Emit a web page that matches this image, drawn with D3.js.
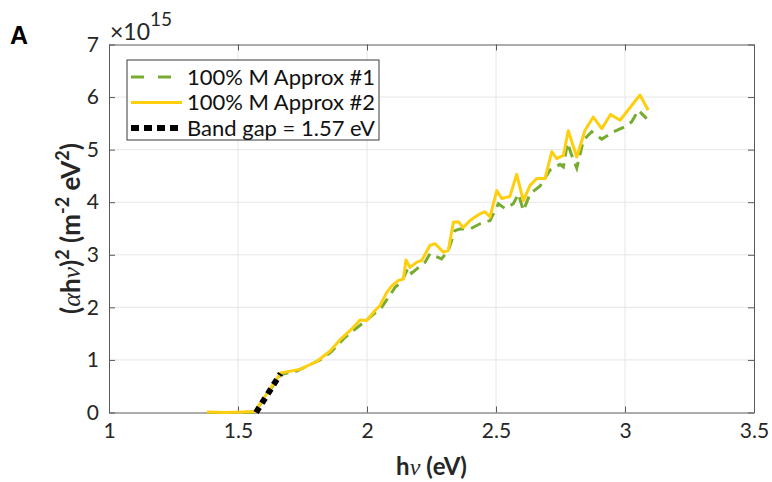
<!DOCTYPE html>
<html>
<head>
<meta charset="utf-8">
<script src="https://cdn.jsdelivr.net/npm/d3@7"></script>
<style>
  body { margin: 0; background: #fff; }
  svg text { font-family: Lato, "Open Sans", sans-serif; }
</style>
</head>
<body>
<script>
// data, y in units of 1e15
var approx1X = [1.38, 1.45, 1.52, 1.565, 1.615, 1.665, 1.728, 1.818, 1.86, 1.915, 1.986, 2.057, 2.109, 2.134, 2.16, 2.173,
  2.225, 2.244, 2.289, 2.315, 2.341, 2.36, 2.399, 2.438, 2.477, 2.509, 2.535, 2.567, 2.587, 2.606, 2.632, 2.671,
  2.709, 2.748, 2.761, 2.777, 2.793, 2.813, 2.839, 2.871, 2.91, 2.955, 3.005, 3.026, 3.052, 3.084];
var approx1Y = [0.0, 0.0, 0.0, 0.01, 0.36, 0.72, 0.79, 1.0, 1.15, 1.43, 1.71, 2.0, 2.38, 2.48, 2.76, 2.65,
  2.86, 3.02, 2.92, 3.08, 3.46, 3.49, 3.49, 3.59, 3.65, 3.97, 3.88, 3.97, 4.16, 3.84, 4.16, 4.31,
  4.61, 4.72, 4.67, 5.13, 4.9, 4.65, 5.18, 5.34, 5.2, 5.34, 5.45, 5.53, 5.75, 5.59];

var approx2X = [1.38, 1.45, 1.52, 1.565, 1.615, 1.665, 1.74, 1.805, 1.857, 1.895, 1.941, 1.973, 1.999, 2.031, 2.05, 2.076,
  2.096, 2.121, 2.141, 2.151, 2.167, 2.193, 2.212, 2.244, 2.264, 2.296, 2.315, 2.335, 2.354, 2.373, 2.399, 2.438,
  2.457, 2.477, 2.503, 2.522, 2.554, 2.58, 2.606, 2.632, 2.658, 2.69, 2.716, 2.735, 2.761, 2.78, 2.813, 2.845,
  2.877, 2.91, 2.944, 2.981, 3.058, 3.09];
var approx2Y = [0.01, 0.0, 0.01, 0.02, 0.38, 0.75, 0.82, 0.97, 1.17, 1.38, 1.59, 1.76, 1.75, 1.94, 2.03, 2.28,
  2.41, 2.51, 2.54, 2.9, 2.76, 2.86, 2.89, 3.18, 3.21, 3.05, 3.08, 3.62, 3.63, 3.52, 3.65, 3.78,
  3.82, 3.72, 4.22, 4.07, 4.11, 4.53, 4.03, 4.32, 4.45, 4.45, 4.96, 4.83, 4.89, 5.36, 4.86, 5.37,
  5.62, 5.4, 5.67, 5.56, 6.04, 5.75];

var bandGapX = [1.57, 1.665];
var bandGapY = [0.0, 0.74];

var legendLabels = ["100% M Approx #1", "100% M Approx #2", "Band gap = 1.57 eV"];
var xTicks = [1, 1.5, 2, 2.5, 3, 3.5];
var yTicks = [0, 1, 2, 3, 4, 5, 6, 7];

var width = 772, height = 482;
var pLeft = 109, pRight = 754, pTop = 44.5, pBottom = 412.5;

var svg = d3.select("body").append("svg")
    .attr("width", width)
    .attr("height", height);

var x = d3.scaleLinear().domain([1, 3.5]).range([pLeft, pRight]);
var y = d3.scaleLinear().domain([0, 7]).range([pBottom, pTop]);

// grid
svg.append("g").selectAll("line")
    .data(xTicks.slice(1, -1))
    .join("line")
    .attr("x1", d => x(d)).attr("x2", d => x(d))
    .attr("y1", pTop).attr("y2", pBottom)
    .attr("stroke", "#e6e6e6").attr("stroke-width", 1);
svg.append("g").selectAll("line")
    .data(yTicks.slice(1, -1))
    .join("line")
    .attr("x1", pLeft).attr("x2", pRight)
    .attr("y1", d => y(d)).attr("y2", d => y(d))
    .attr("stroke", "#e6e6e6").attr("stroke-width", 1);

// axes, ticks pointing inward like matlab
function styleAxis(g) {
  g.select(".domain").attr("stroke", "#5a5a5a");
  g.selectAll(".tick line").attr("stroke", "#5a5a5a");
  g.selectAll(".tick text").attr("fill", "#262626").style("font-size", "21px");
}
svg.append("g").attr("transform", "translate(0," + pBottom + ")")
    .call(d3.axisBottom(x).tickValues(xTicks).tickFormat(d3.format("")).tickSizeInner(-6).tickSizeOuter(0).tickPadding(11))
    .call(styleAxis);
svg.append("g").attr("transform", "translate(0," + pTop + ")")
    .call(d3.axisTop(x).tickValues(xTicks).tickFormat("").tickSizeInner(-6).tickSizeOuter(0))
    .call(styleAxis);
svg.append("g").attr("transform", "translate(" + pLeft + ",0)")
    .call(d3.axisLeft(y).tickValues(yTicks).tickFormat(d3.format("d")).tickSizeInner(-6).tickSizeOuter(0).tickPadding(10))
    .call(styleAxis);
svg.append("g").attr("transform", "translate(" + pRight + ",0)")
    .call(d3.axisRight(y).tickValues(yTicks).tickFormat("").tickSizeInner(-6).tickSizeOuter(0))
    .call(styleAxis);

// lines
var line = d3.line().x(d => x(d[0])).y(d => y(d[1]));
var green = "#77ac30", yellow = "#ffcf0f";

svg.append("path")
    .datum(d3.zip(approx1X, approx1Y))
    .attr("d", line)
    .attr("fill", "none").attr("stroke", green)
    .attr("stroke-width", 3).attr("stroke-dasharray", "11,7");
svg.append("path")
    .datum(d3.zip(approx2X, approx2Y))
    .attr("d", line)
    .attr("fill", "none").attr("stroke", yellow)
    .attr("stroke-width", 3).attr("stroke-linejoin", "round");
svg.append("path")
    .datum(d3.zip(bandGapX, bandGapY))
    .attr("d", line)
    .attr("fill", "none").attr("stroke", "#000")
    .attr("stroke-width", 6).attr("stroke-dasharray", "6,5");

// legend
var lg = svg.append("g");
lg.append("rect")
    .attr("x", 127).attr("y", 60).attr("width", 252).attr("height", 80)
    .attr("fill", "#fff").attr("stroke", "#3a3a3a").attr("stroke-width", 1);
var legendStyles = [
  { color: green, w: 3, dash: "13,14" },
  { color: yellow, w: 3, dash: null },
  { color: "#000", w: 6, dash: "8,5" }
];
var rows = lg.selectAll("g.row")
    .data(legendLabels)
    .join("g")
    .attr("transform", (d, i) => "translate(0," + (77 + i * 25.5) + ")");
rows.append("line")
    .attr("x1", 131).attr("x2", 182)
    .attr("stroke", (d, i) => legendStyles[i].color)
    .attr("stroke-width", (d, i) => legendStyles[i].w)
    .attr("stroke-dasharray", (d, i) => legendStyles[i].dash);
rows.append("text")
    .attr("x", 187).attr("dy", "0.35em")
    .style("font-size", "22px").attr("fill", "#111")
    .text(d => d);

// exponent label
var ex = svg.append("text").attr("x", 110).attr("y", 40).attr("fill", "#262626").style("font-size", "23px");
ex.append("tspan").text("×10");
ex.append("tspan").attr("dy", -14).style("font-size", "19px").text("15");

// axis titles
var serif = "'Liberation Serif', serif";
var xt = svg.append("text")
    .attr("x", (pLeft + pRight) / 2).attr("y", 475)
    .attr("text-anchor", "middle").attr("fill", "#262626")
    .style("font-size", "24px").style("font-weight", "bold");
xt.append("tspan").text("h");
xt.append("tspan").style("font-family", serif).style("font-style", "italic").style("font-weight", "normal").text("ν");
xt.append("tspan").text(" (eV)");

var yt = svg.append("text")
    .attr("transform", "translate(80," + ((pTop + pBottom) / 2) + ") rotate(-90)")
    .attr("text-anchor", "middle").attr("fill", "#262626")
    .style("font-size", "26px").style("font-weight", "bold");
yt.append("tspan").text("(");
yt.append("tspan").style("font-family", serif).style("font-style", "italic").style("font-weight", "normal").text("α");
yt.append("tspan").text("h");
yt.append("tspan").style("font-family", serif).style("font-style", "italic").style("font-weight", "normal").text("ν");
yt.append("tspan").text(")");
yt.append("tspan").attr("dy", -11).style("font-size", "18px").text("2");
yt.append("tspan").attr("dy", 11).text(" (m");
yt.append("tspan").attr("dy", -11).style("font-size", "18px").text("-2");
yt.append("tspan").attr("dy", 11).text(" eV");
yt.append("tspan").attr("dy", -11).style("font-size", "18px").text("2");
yt.append("tspan").attr("dy", 11).text(")");

// panel letter
svg.append("text").attr("x", 10).attr("y", 44)
    .style("font-family", "'Liberation Sans', Arial, sans-serif")
    .style("font-size", "25px").style("font-weight", "bold").attr("fill", "#000")
    .text("A");
</script>
</body>
</html>
